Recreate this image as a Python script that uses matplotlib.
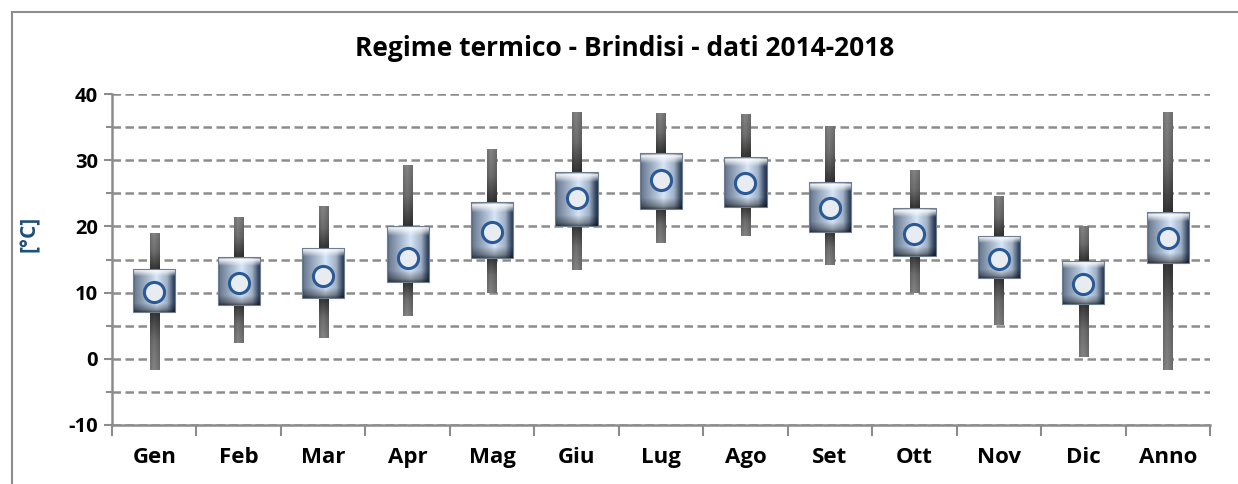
import numpy as np
import matplotlib
matplotlib.use('Agg')
import matplotlib.pyplot as plt
from matplotlib.lines import Line2D
from matplotlib.ticker import MultipleLocator, FixedLocator

# data (deg C)
months = ['Gen', 'Feb', 'Mar', 'Apr', 'Mag', 'Giu', 'Lug', 'Ago', 'Set', 'Ott', 'Nov', 'Dic', 'Anno']
t_max = [19.0, 21.4, 23.1, 29.2, 31.7, 37.3, 37.2, 37.0, 35.2, 28.5, 24.6, 20.0, 37.3]
box_top = [13.6, 15.4, 16.8, 20.1, 23.7, 28.2, 31.1, 30.5, 26.7, 22.8, 18.6, 14.8, 22.1]
box_bottom = [7.1, 8.2, 9.2, 11.6, 15.3, 20.1, 22.7, 23.0, 19.2, 15.6, 12.2, 8.3, 14.5]
t_min = [-1.7, 2.4, 3.2, 6.5, 10.0, 13.4, 17.5, 18.6, 14.2, 10.0, 5.1, 0.2, -1.7]
t_mean = [10.1, 11.5, 12.5, 15.3, 19.2, 24.3, 27.0, 26.6, 22.8, 18.9, 15.1, 11.3, 18.3]

plt.rcParams['font.family'] = ['Open Sans', 'DejaVu Sans']
plt.rcParams['axes.unicode_minus'] = False

fig = plt.figure(figsize=(12.38, 4.84), dpi=100)
ax = fig.add_axes([112 / 1238, 1 - 425 / 484, 1098 / 1238, 331 / 484])

# outer frame of the chart area
fig.add_artist(Line2D([12 / 1238, 12 / 1238], [0, 1 - 12 / 484], transform=fig.transFigure,
                      color='#8c8c8c', lw=1.5))
fig.add_artist(Line2D([12 / 1238, 1], [1 - 12 / 484, 1 - 12 / 484], transform=fig.transFigure,
                      color='#8c8c8c', lw=1.5))


def box_image():
    n = 80
    t = np.linspace(0, 1, n)
    h = np.interp(t, [0, 0.04, 0.12, 0.55, 0.8, 0.94, 1], [0.15, 0.4, 0.5, 1.0, 0.7, 0.15, 0.0])
    v = np.linspace(0, 1, n)
    light = np.array([0.84, 0.90, 0.97])
    dark = np.array([0.13, 0.20, 0.31])
    img = dark + (light - dark) * h[None, :, None]
    img = np.repeat(img, n, axis=0)
    top_hl = np.interp(v, [0, 0.04, 0.09, 0.18, 1], [0.0, 0.9, 0.6, 0.0, 0.0])
    bot_dk = np.interp(v, [0, 0.8, 0.95, 1], [0.0, 0.0, 0.35, 0.6])
    top_dk = np.interp(v, [0, 0.03, 1], [0.4, 0.0, 0.0])
    img = img + (1 - img) * top_hl[:, None, None]
    img = img * (1 - bot_dk[:, None, None]) * (1 - top_dk[:, None, None])
    return np.clip(img, 0, 1)


def whisker_image(upper):
    n = 60
    v = np.linspace(0, 1, n)
    g = np.interp(v, [0, 0.5, 1], [0.50, 0.42, 0.2])
    if not upper:
        g = g[::-1]
    t = np.linspace(0, 1, 20)
    hshade = np.interp(t, [0, 0.4, 1], [0.9, 1.05, 0.85])
    img = g[:, None] * hshade[None, :]
    return np.clip(np.dstack([img, img, img]), 0, 1)


bimg = box_image()
x = np.arange(len(months))
ww = 0.11
bw = 0.5

for i in x:
    # upper and lower whiskers
    for lo, hi, up in [(box_top[i], t_max[i], True), (t_min[i], box_bottom[i], False)]:
        p = ax.bar(i, hi - lo, bottom=lo, width=ww, color='#555555', zorder=3)[0]
        im = ax.imshow(whisker_image(up), extent=(i - ww / 2, i + ww / 2, lo, hi),
                       aspect='auto', zorder=3, interpolation='bilinear')
        im.set_clip_path(p)
    # box
    p = ax.bar(i, box_top[i] - box_bottom[i], bottom=box_bottom[i], width=bw,
               color='#506d8f', zorder=4)[0]
    im = ax.imshow(bimg, extent=(i - bw / 2, i + bw / 2, box_bottom[i], box_top[i]),
                   aspect='auto', zorder=4, interpolation='bilinear')
    im.set_clip_path(p)
    ax.bar(i, box_top[i] - box_bottom[i], bottom=box_bottom[i], width=bw,
           facecolor='none', edgecolor='#6f7d90', lw=0.8, zorder=5)

ax.scatter(x, t_mean, s=210, facecolor='#e8ecf1', edgecolor='#2a5a96', linewidth=2.2, zorder=6)

ax.set_xlim(-0.5, len(months) - 0.5)
ax.set_ylim(-10, 40)

ax.yaxis.set_major_locator(MultipleLocator(10))
ax.yaxis.set_minor_locator(MultipleLocator(5))
ax.yaxis.grid(True, which='both', color='#8c8c8c', linestyle=(0, (3.4, 1.8)), lw=1.8, zorder=1)
ax.set_axisbelow(True)

ax.set_xticks(x)
ax.set_xticklabels(months, fontsize=16, fontweight='bold')
ax.xaxis.set_minor_locator(FixedLocator(np.arange(-0.5, len(months), 1)))
ax.tick_params(axis='x', which='major', length=0, pad=16)
ax.tick_params(axis='x', which='minor', length=8, width=1.5, color='#8c8c8c', direction='out')
ax.tick_params(axis='y', which='major', length=6, width=1.5, color='#8c8c8c', direction='out',
               labelsize=14.5, pad=4)
ax.tick_params(axis='y', which='minor', length=4, width=1.5, color='#8c8c8c', direction='out')
for lab in ax.get_yticklabels():
    lab.set_fontweight('bold')

for s in ['top', 'right']:
    ax.spines[s].set_visible(False)
for s in ['left', 'bottom']:
    ax.spines[s].set_color('#8c8c8c')
    ax.spines[s].set_linewidth(1.8)

ax.set_ylabel('[°C]', fontsize=15, fontweight='bold', color='#1f4e79')
ax.yaxis.set_label_coords(-0.066, 0.577)
fig.text(625 / 1238, 1 - 48 / 484, 'Regime termico - Brindisi - dati 2014-2018', ha='center',
         va='center', fontsize=19, fontweight='bold')

fig.savefig('out.png', dpi=100)
